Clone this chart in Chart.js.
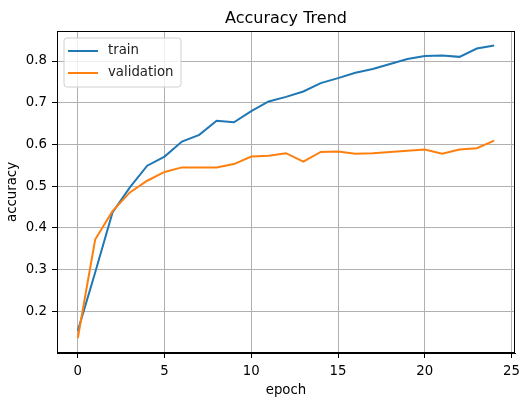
<!DOCTYPE html>
<html>
<head>
<meta charset="utf-8">
<script src="https://cdn.jsdelivr.net/npm/chart.js@4"></script>
<style>
  html, body { margin: 0; padding: 0; background: #fff; }
  #wrap { width: 521px; height: 401px; position: relative; }
</style>
</head>
<body>
<div id="wrap"><canvas id="c" width="521" height="401"></canvas></div>
<script>
const epochs = [0,1,2,3,4,5,6,7,8,9,10,11,12,13,14,15,16,17,18,19,20,21,22,23,24];
const trainAcc = [0.153, 0.293, 0.437, 0.497, 0.549, 0.571, 0.607, 0.623, 0.657, 0.653, 0.680, 0.703, 0.714, 0.727, 0.747, 0.759, 0.772, 0.781, 0.793, 0.805, 0.812, 0.813, 0.810, 0.830, 0.837];
const valAcc = [0.136, 0.372, 0.440, 0.485, 0.513, 0.534, 0.545, 0.545, 0.545, 0.553, 0.571, 0.573, 0.579, 0.559, 0.582, 0.583, 0.578, 0.579, 0.582, 0.585, 0.588, 0.578, 0.588, 0.591, 0.609];
const xTicks = [0, 5, 10, 15, 20, 25];
const yTicks = [0.2, 0.3, 0.4, 0.5, 0.6, 0.7, 0.8];
const seriesNames = ['train', 'validation'];
const chartTitle = 'Accuracy Trend';

const FONT = 'DejaVu Sans';
const FS = 13.3;

const framePlugin = {
  id: 'frame',
  afterDatasetsDraw(chart) {
    const a = chart.chartArea, ctx = chart.ctx;
    ctx.save();
    ctx.strokeStyle = '#000';
    ctx.lineWidth = 1;
    ctx.strokeRect(Math.round(a.left) + 0.5, Math.round(a.top) + 0.5,
                   Math.round(a.right - a.left) - 1, Math.round(a.bottom - a.top) - 1);
    ctx.restore();
  }
};

const titlePlugin = {
  id: 'axTitle',
  afterDraw(chart) {
    const a = chart.chartArea, ctx = chart.ctx;
    ctx.save();
    ctx.fillStyle = '#000';
    ctx.font = '16px "' + FONT + '"';
    ctx.textAlign = 'center';
    ctx.textBaseline = 'alphabetic';
    ctx.fillText(chartTitle, (a.left + a.right) / 2, a.top - 8);
    ctx.restore();
  }
};

const legendPlugin = {
  id: 'innerLegend',
  afterDraw(chart) {
    const ctx = chart.ctx, a = chart.chartArea;
    const x0 = a.left + 7, y0 = a.top + 7, w = 117, h = 49, r = 3;
    ctx.save();
    ctx.beginPath();
    ctx.moveTo(x0 + r, y0);
    ctx.lineTo(x0 + w - r, y0); ctx.quadraticCurveTo(x0 + w, y0, x0 + w, y0 + r);
    ctx.lineTo(x0 + w, y0 + h - r); ctx.quadraticCurveTo(x0 + w, y0 + h, x0 + w - r, y0 + h);
    ctx.lineTo(x0 + r, y0 + h); ctx.quadraticCurveTo(x0, y0 + h, x0, y0 + h - r);
    ctx.lineTo(x0, y0 + r); ctx.quadraticCurveTo(x0, y0, x0 + r, y0);
    ctx.closePath();
    ctx.fillStyle = 'rgba(255,255,255,0.8)';
    ctx.fill();
    ctx.strokeStyle = '#d0d0d0';
    ctx.lineWidth = 1;
    ctx.stroke();
    const sets = [...chart.data.datasets].sort((p, q) => p.legendIndex - q.legendIndex);
    sets.forEach((ds, i) => {
      const y = y0 + 13 + i * 22;
      ctx.beginPath();
      ctx.strokeStyle = ds.borderColor;
      ctx.lineWidth = 2;
      ctx.moveTo(x0 + 4, y); ctx.lineTo(x0 + 34, y);
      ctx.stroke();
      ctx.fillStyle = '#222';
      ctx.font = FS + 'px "' + FONT + '"';
      ctx.textBaseline = 'middle';
      ctx.textAlign = 'left';
      ctx.fillText(ds.label, x0 + 44, y);
    });
    ctx.restore();
  }
};

new Chart(document.getElementById('c'), {
  type: 'line',
  data: {
    datasets: [
      { label: seriesNames[0], legendIndex: 0, order: 1,
        data: epochs.map((e, i) => ({ x: e, y: trainAcc[i] })),
        borderColor: '#1f77b4', borderWidth: 2, pointRadius: 0, tension: 0, fill: false },
      { label: seriesNames[1], legendIndex: 1, order: 0,
        data: epochs.map((e, i) => ({ x: e, y: valAcc[i] })),
        borderColor: '#ff7f0e', borderWidth: 2, pointRadius: 0, tension: 0, fill: false }
    ]
  },
  options: {
    responsive: false,
    animation: false,
    devicePixelRatio: 1,
    layout: { padding: { left: 0, right: 6, top: 31, bottom: 0 } },
    plugins: {
      legend: { display: false },
      tooltip: { enabled: false },
      title: { display: false }
    },
    scales: {
      x: {
        type: 'linear', min: -1.2, max: 25.2,
        afterBuildTicks(s) { s.ticks = xTicks.map(v => ({ value: v })); },
        afterFit(s) { s.height = 48; s.paddingLeft = 0; s.paddingRight = 0; },
        ticks: { color: '#000', font: { family: FONT, size: FS }, padding: 6, maxRotation: 0,
                 callback: v => String(v) },
        grid: { color: '#b0b0b0', lineWidth: 1, tickLength: 5, tickColor: '#000', drawTicks: true },
        border: { display: true, color: '#000' },
        title: { display: true, text: 'epoch', color: '#000',
                 font: { family: FONT, size: FS }, padding: { top: 0, bottom: 2 } }
      },
      y: {
        type: 'linear', min: 0.10, max: 0.872,
        afterBuildTicks(s) { s.ticks = yTicks.map(v => ({ value: v })); },
        afterFit(s) { s.width = 57; s.paddingTop = 0; s.paddingBottom = 0; },
        ticks: { color: '#000', font: { family: FONT, size: FS }, padding: 5,
                 callback: v => v.toFixed(1) },
        grid: { color: '#b0b0b0', lineWidth: 1, tickLength: 5, tickColor: '#000', drawTicks: true },
        border: { display: true, color: '#000' },
        title: { display: true, text: 'accuracy', color: '#000',
                 font: { family: FONT, size: FS }, padding: { top: 5, bottom: 0 } }
      }
    }
  },
  plugins: [framePlugin, titlePlugin, legendPlugin]
});
</script>
</body>
</html>
